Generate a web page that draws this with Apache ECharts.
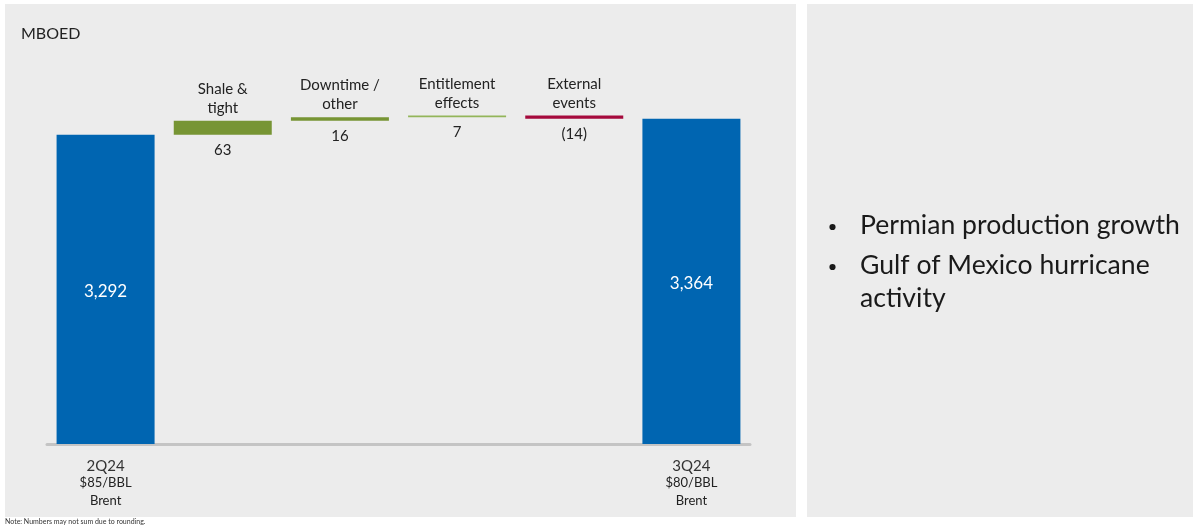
<!DOCTYPE html>
<html>
<head>
<meta charset="utf-8">
<script src="https://cdn.jsdelivr.net/npm/echarts@6/dist/echarts.min.js"></script>
<style>
  html, body { margin: 0; padding: 0; background: #ffffff; }
  #chart { width: 1193px; height: 528px; }
</style>
</head>
<body>
<div id="chart"></div>
<script>
// Production walk, MBOED
const categories = ['2Q24', 'Shale &\ntight', 'Downtime /\nother', 'Entitlement\neffects', 'External\nevents', '3Q24'];
const startValue = 3292;
const endValue = 3364;
const deltas = [63, 16, 7, -14];
const deltaLabels = ['63', '16', '7', '(14)'];
const deltaColors = ['#779534', '#779534', '#93b55a', '#a50a3c'];
const periodLines = [
  ['2Q24', '$85/BBL', 'Brent'],
  ['3Q24', '$80/BBL', 'Brent']
];
const bullets = ['Permian production growth', 'Gulf of Mexico hurricane', 'activity'];
const unitLabel = 'MBOED';
const noteText = 'Note: Numbers may not sum due to rounding.';

// Invisible floor + visible segment for each step of the walk
const baseData = [];
const barData = [];
let running = startValue;
baseData.push(0);
barData.push({ value: startValue, itemStyle: { color: '#0065b1' } });
deltas.forEach((d, i) => {
  const lo = d >= 0 ? running : running + d;
  baseData.push(lo);
  barData.push({ value: Math.abs(d), itemStyle: { color: deltaColors[i] } });
  running += d;
});
baseData.push(0);
barData.push({ value: endValue, itemStyle: { color: '#0065b1' } });

const FONT = 'Lato, "Open Sans", sans-serif';

const chart = echarts.init(document.getElementById('chart'), null, { renderer: 'canvas' });

chart.setOption({
  animation: false,
  backgroundColor: '#ffffff',
  graphic: [
    { type: 'rect', z: -10, shape: { x: 5, y: 4, width: 791, height: 513 }, style: { fill: '#ececec' } },
    { type: 'rect', z: -10, shape: { x: 807, y: 4, width: 386, height: 513 }, style: { fill: '#ececec' } },
    { type: 'text', left: 21, top: 26, style: { text: unitLabel, font: '16px ' + FONT, fill: '#222222' } },
    { type: 'text', left: 5, top: 518, style: { text: noteText, font: '7px ' + FONT, fill: '#333333' } },
    { type: 'circle', shape: { cx: 832.5, cy: 227, r: 3.1 }, style: { fill: '#1a1a1a' } },
    { type: 'circle', shape: { cx: 832.5, cy: 267, r: 3.1 }, style: { fill: '#1a1a1a' } },
    { type: 'text', left: 860, top: 212, style: { text: bullets[0], font: '26.6px ' + FONT, fill: '#1a1a1a' } },
    { type: 'text', left: 860, top: 252, style: { text: bullets[1], font: '26.6px ' + FONT, fill: '#1a1a1a' } },
    { type: 'text', left: 860, top: 285, style: { text: bullets[2], font: '26.6px ' + FONT, fill: '#1a1a1a' } }
  ],
  grid: { left: 47, top: 110.7, width: 703, height: 333.3, containLabel: false },
  xAxis: {
    type: 'category',
    data: categories,
    axisTick: { show: false },
    axisLine: { show: true, lineStyle: { color: '#c4c4c4', width: 3 } },
    axisLabel: {
      interval: 0,
      margin: 13,
      formatter: (v, idx) => {
        if (idx === 0) return '{a|' + periodLines[0][0] + '}\n{b|' + periodLines[0][1] + '}\n{b|' + periodLines[0][2] + '}';
        if (idx === categories.length - 1) return '{a|' + periodLines[1][0] + '}\n{b|' + periodLines[1][1] + '}\n{b|' + periodLines[1][2] + '}';
        return '';
      },
      rich: {
        a: { fontFamily: FONT, fontSize: 15, color: '#333333', lineHeight: 17.5 },
        b: { fontFamily: FONT, fontSize: 13, color: '#222222', lineHeight: 17.5 }
      }
    }
  },
  yAxis: {
    type: 'value',
    min: 1900,
    max: 3400,
    show: false,
    splitLine: { show: false }
  },
  series: [
    {
      type: 'bar',
      stack: 'walk',
      data: baseData,
      itemStyle: { color: 'transparent' },
      barWidth: 98,
      silent: true
    },
    {
      type: 'bar',
      stack: 'walk',
      data: barData,
      barWidth: 98,
      label: {
        show: true,
        formatter: (p) => {
          const i = p.dataIndex;
          if (i === 0 || i === categories.length - 1) return p.value.toLocaleString('en-US');
          return '';
        },
        position: 'inside',
        offset: [0, 2],
        color: '#ffffff',
        fontFamily: FONT,
        fontSize: 17
      }
    },
    // category names above, values below the step marks
    {
      type: 'bar',
      stack: 'walk',
      data: barData.map((d, i) => (i === 0 || i === categories.length - 1) ? '-' : 0),
      barWidth: 98,
      itemStyle: { color: 'transparent' },
      label: {
        show: true,
        position: 'top',
        distance: 3,
        formatter: (p) => categories[p.dataIndex],
        color: '#222222',
        fontFamily: FONT,
        fontSize: 15,
        lineHeight: 19
      },
      silent: true
    },
    {
      type: 'bar',
      stack: 'under',
      data: baseData.map((b, i) => (i === 0 || i === categories.length - 1) ? '-' : b),
      barWidth: 98,
      barGap: '-100%',
      itemStyle: { color: 'transparent' },
      label: {
        show: true,
        position: 'top',
        distance: -23,
        formatter: (p) => deltaLabels[p.dataIndex - 1],
        color: '#222222',
        fontFamily: FONT,
        fontSize: 15
      },
      silent: true
    }
  ]
});
</script>
</body>
</html>
